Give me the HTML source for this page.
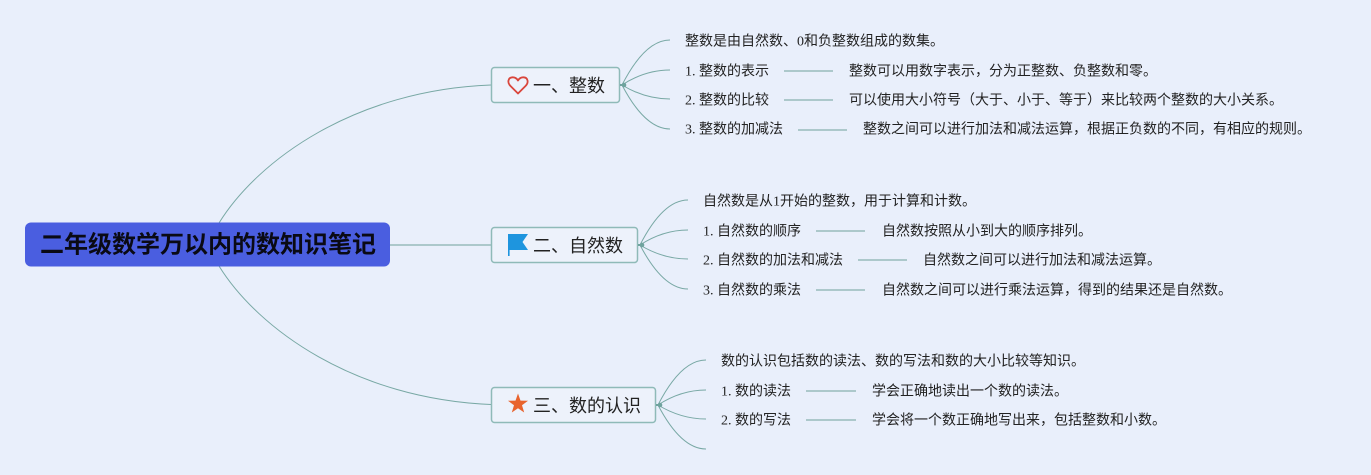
<!DOCTYPE html>
<html>
<head>
<meta charset="utf-8">
<style>
html,body{margin:0;padding:0;background:#e9effb;}
svg{display:block;}
text{font-family:"Liberation Serif","Noto Sans CJK SC",serif;fill:#222;}
.sub{font-size:14px;}
.br{font-family:"Liberation Sans","Noto Sans CJK SC",sans-serif;font-size:18px;fill:#222;}
.root{font-family:"Liberation Sans","Noto Sans CJK SC",sans-serif;font-size:24px;font-weight:bold;fill:#0a0a14;}
</style>
</head>
<body>
<svg width="1371" height="475" viewBox="0 0 1371 475" xmlns="http://www.w3.org/2000/svg">
<rect x="0" y="0" width="1371" height="475" fill="#e9effb"/>

<g fill="none" stroke="#78a8a4" stroke-width="1">
<path d="M219,223 C258,160 355,90 491,85"/>
<path d="M219,266 C258,329 355,399 491,404.5"/>
</g>
<line x1="390" y1="245" x2="491" y2="245" stroke="#98bcbb" stroke-width="1.5"/>

<rect x="25" y="222.5" width="365" height="44" rx="6" fill="#4a5ee0"/>
<text class="root" x="208" y="245" text-anchor="middle" dominant-baseline="central">二年级数学万以内的数知识笔记</text>

<rect x="491.5" y="67.5" width="128" height="35" rx="3" fill="#edf2fb" stroke="#8fbab8" stroke-width="1.5"/>
<rect x="491.5" y="227.5" width="146" height="35" rx="3" fill="#edf2fb" stroke="#8fbab8" stroke-width="1.5"/>
<rect x="491.5" y="387.5" width="164" height="35" rx="3" fill="#edf2fb" stroke="#8fbab8" stroke-width="1.5"/>

<path d="M518,93.5 L510.5,86 C507,82.5 508,77.5 512.5,77.3 C515,77.2 517,78.8 518,80.5 C519,78.8 521,77.2 523.5,77.3 C528,77.5 529,82.5 525.5,86 Z" fill="none" stroke="#d9463b" stroke-width="1.8" stroke-linejoin="round"/>
<rect x="508" y="234" width="1.6" height="22" fill="#1e95de"/>
<polygon points="508,234 528,234 522.5,242 528,250 508,250" fill="#1e95de"/>
<polygon points="518,393.5 520.5,400.6 528,400.8 522,405.3 524.2,412.5 518,408.2 511.8,412.5 514,405.3 508,400.8 515.5,400.6" fill="#e8642e"/>

<text class="br" x="533" y="86" dominant-baseline="central">一、整数</text>
<text class="br" x="533" y="246" dominant-baseline="central">二、自然数</text>
<text class="br" x="533" y="406" dominant-baseline="central">三、数的认识</text>

<g fill="none" stroke="#78a8a4" stroke-width="1">
<path d="M622,85 Q645,40 670,40"/>
<path d="M622,85 Q645,70 670,70"/>
<path d="M622,85 Q645,99 670,99"/>
<path d="M622,85 Q645,129 670,129"/>
<path d="M640,245 Q663,200 688,200"/>
<path d="M640,245 Q663,230 688,230"/>
<path d="M640,245 Q663,259 688,259"/>
<path d="M640,245 Q663,289 688,289"/>
<path d="M658,405 Q681,360 706,360"/>
<path d="M658,405 Q681,390 706,390"/>
<path d="M658,405 Q681,419 706,419"/>
<path d="M658,405 Q681,449 706,449"/>
</g>
<g fill="#6fa39e">
<rect x="620" y="84" width="5" height="2"/><circle cx="624" cy="85" r="2.3"/>
<rect x="638" y="244" width="5" height="2"/><circle cx="642" cy="245" r="2.3"/>
<rect x="656" y="404" width="5" height="2"/><circle cx="660" cy="405" r="2.3"/>
</g>

<g stroke="#98bcbb" stroke-width="1.5">
<line x1="784" y1="71" x2="833" y2="71"/>
<line x1="784" y1="100" x2="833" y2="100"/>
<line x1="798" y1="130" x2="847" y2="130"/>
<line x1="816" y1="231" x2="865" y2="231"/>
<line x1="858" y1="260" x2="907" y2="260"/>
<line x1="816" y1="290" x2="865" y2="290"/>
<line x1="806" y1="391" x2="856" y2="391"/>
<line x1="806" y1="420" x2="856" y2="420"/>
</g>

<g>
<text class="sub" x="685" y="42" dominant-baseline="central">整数是由自然数、0和负整数组成的数集。</text>
<text class="sub" x="685" y="72" dominant-baseline="central">1. 整数的表示</text>
<text class="sub" x="849" y="72" dominant-baseline="central">整数可以用数字表示，分为正整数、负整数和零。</text>
<text class="sub" x="685" y="101" dominant-baseline="central">2. 整数的比较</text>
<text class="sub" x="849" y="101" dominant-baseline="central">可以使用大小符号（大于、小于、等于）来比较两个整数的大小关系。</text>
<text class="sub" x="685" y="130" dominant-baseline="central">3. 整数的加减法</text>
<text class="sub" x="863" y="130" dominant-baseline="central">整数之间可以进行加法和减法运算，根据正负数的不同，有相应的规则。</text>

<text class="sub" x="703" y="202" dominant-baseline="central">自然数是从1开始的整数，用于计算和计数。</text>
<text class="sub" x="703" y="232" dominant-baseline="central">1. 自然数的顺序</text>
<text class="sub" x="882" y="232" dominant-baseline="central">自然数按照从小到大的顺序排列。</text>
<text class="sub" x="703" y="261" dominant-baseline="central">2. 自然数的加法和减法</text>
<text class="sub" x="923" y="261" dominant-baseline="central">自然数之间可以进行加法和减法运算。</text>
<text class="sub" x="703" y="291" dominant-baseline="central">3. 自然数的乘法</text>
<text class="sub" x="882" y="291" dominant-baseline="central">自然数之间可以进行乘法运算，得到的结果还是自然数。</text>

<text class="sub" x="721" y="362" dominant-baseline="central">数的认识包括数的读法、数的写法和数的大小比较等知识。</text>
<text class="sub" x="721" y="392" dominant-baseline="central">1. 数的读法</text>
<text class="sub" x="872" y="392" dominant-baseline="central">学会正确地读出一个数的读法。</text>
<text class="sub" x="721" y="421" dominant-baseline="central">2. 数的写法</text>
<text class="sub" x="872" y="421" dominant-baseline="central">学会将一个数正确地写出来，包括整数和小数。</text>
</g>
</svg>
</body>
</html>
